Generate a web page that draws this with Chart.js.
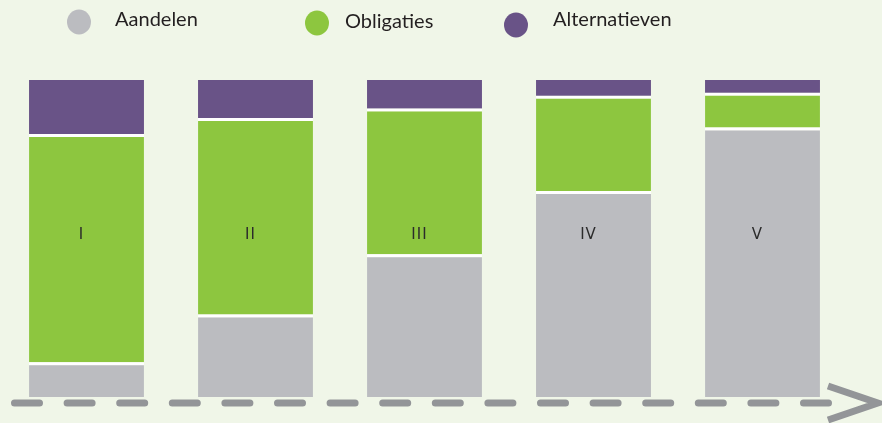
<!DOCTYPE html>
<html>
<head>
<meta charset="utf-8">
<script src="https://cdn.jsdelivr.net/npm/chart.js@4"></script>
<style>
html,body{margin:0;padding:0;background:#f0f6e8;}
#wrap{width:882px;height:423px;position:relative;}
</style>
</head>
<body>
<div id="wrap"><canvas id="c" width="882" height="423"></canvas></div>
<script>
const categories = ['I', 'II', 'III', 'IV', 'V'];
const seriesNames = ['Aandelen', 'Obligaties', 'Alternatieven'];
const aandelen = [11, 26, 45, 65, 85];
const obligaties = [72, 62, 46, 30, 11];
const alternatieven = [17, 12, 9, 5, 4];
const yTicks = [0, 100];

const colors = ['#bbbcc0', '#8dc63f', '#695387'];
const bg = '#f0f6e8';

const bgPlugin = {
  id: 'bg',
  beforeDraw(chart) {
    const ctx = chart.ctx;
    ctx.save();
    ctx.fillStyle = bg;
    ctx.fillRect(0, 0, chart.width, chart.height);
    ctx.restore();
  }
};

const legendPos = [
  {cx: 79, cy: 22, tx: 115, ty: 26},
  {cx: 317, cy: 23, tx: 345, ty: 28},
  {cx: 516, cy: 25, tx: 553, ty: 26}
];

const decoPlugin = {
  id: 'deco',
  afterDraw(chart) {
    const ctx = chart.ctx;
    const xs = chart.scales.x, ys = chart.scales.y;
    ctx.save();
    // legend
    chart.data.datasets.forEach((ds, i) => {
      const p = legendPos[i];
      ctx.fillStyle = ds.backgroundColor;
      ctx.beginPath();
      ctx.ellipse(p.cx, p.cy, 12, 12.5, 0, 0, Math.PI * 2);
      ctx.fill();
      ctx.fillStyle = '#231f20';
      ctx.font = '20px Lato';
      ctx.textBaseline = 'alphabetic';
      ctx.textAlign = 'left';
      ctx.fillText(ds.label, p.tx, p.ty);
    });
    // category labels inside bars
    ctx.fillStyle = '#2b2b2b';
    ctx.font = '15px "DejaVu Sans"';
    ctx.textAlign = 'center';
    ctx.textBaseline = 'middle';
    try { ctx.letterSpacing = '1px'; } catch (e) {}
    const ly = ys.getPixelForValue(51);
    categories.forEach((c, i) => {
      ctx.fillText(c, xs.getPixelForValue(i) - 5, ly);
    });
    try { ctx.letterSpacing = '0px'; } catch (e) {}
    // dashed axis line with arrow
    const y0 = ys.getPixelForValue(0) + 6;
    ctx.strokeStyle = '#939598';
    ctx.lineWidth = 7;
    ctx.lineCap = 'round';
    ctx.setLineDash([25, 27.6]);
    ctx.beginPath();
    ctx.moveTo(14.5, y0);
    ctx.lineTo(830, y0);
    ctx.stroke();
    ctx.setLineDash([]);
    ctx.lineCap = 'butt';
    ctx.lineJoin = 'miter';
    ctx.beginPath();
    ctx.moveTo(828, y0 - 17);
    ctx.lineTo(878, y0);
    ctx.lineTo(828, y0 + 17);
    ctx.stroke();
    ctx.restore();
  }
};

const seriesData = [aandelen, obligaties, alternatieven];
const borders = [{top: 3, bottom: 0, left: 0, right: 0}, {top: 3, bottom: 0, left: 0, right: 0}, 0];

new Chart(document.getElementById('c'), {
  type: 'bar',
  data: {
    labels: categories,
    datasets: seriesNames.map((n, i) => ({
      label: n,
      data: seriesData[i],
      backgroundColor: colors[i],
      borderColor: '#ffffff',
      borderWidth: borders[i],
      borderSkipped: false,
      barPercentage: 0.68,
      categoryPercentage: 1
    }))
  },
  options: {
    responsive: false,
    animation: false,
    devicePixelRatio: 1,
    layout: {padding: {left: 2, right: 35, top: 80, bottom: 26}},
    plugins: {legend: {display: false}, tooltip: {enabled: false}},
    scales: {
      x: {stacked: true, display: false},
      y: {stacked: true, display: false, min: yTicks[0], max: yTicks[1]}
    }
  },
  plugins: [bgPlugin, decoPlugin]
});
</script>
</body>
</html>
